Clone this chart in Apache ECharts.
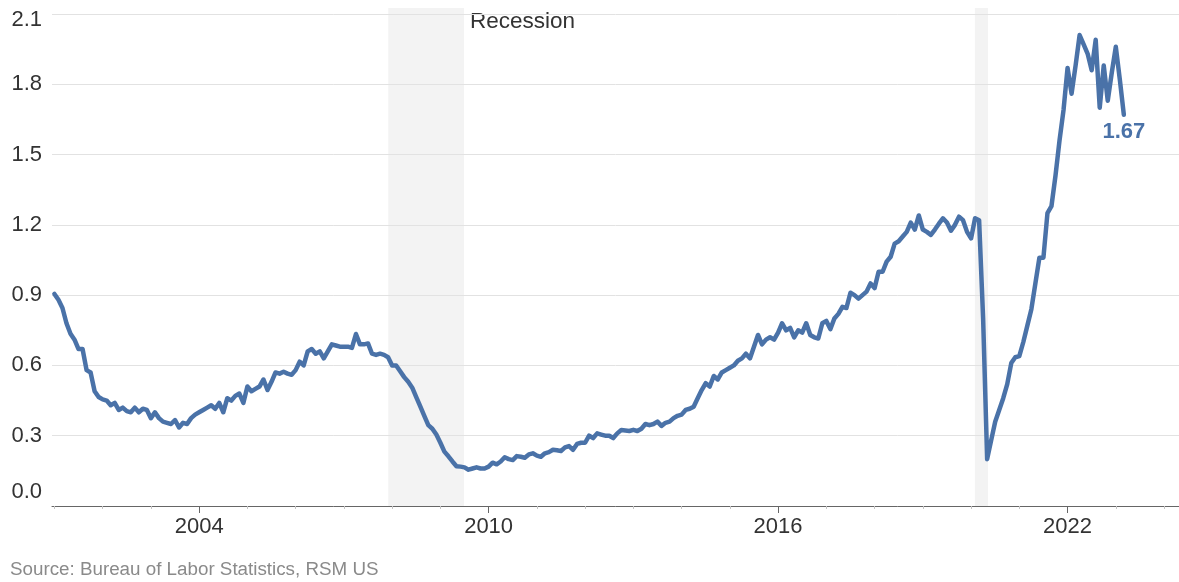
<!DOCTYPE html>
<html>
<head>
<meta charset="utf-8">
<title>Job openings per unemployed worker</title>
<script src="https://cdn.jsdelivr.net/npm/echarts@6/dist/echarts.min.js"></script>
<style>
  html, body { margin: 0; padding: 0; background: #ffffff; }
  #chart { width: 1179px; height: 582px; }
</style>
</head>
<body>
<div id="chart"></div>
<script>
// Monthly series begins December 2000
const firstYear = 2000;
const firstMonth = 12;

// Job openings per unemployed person, one value per month
const openingsPerUnemployed = [
  0.905,                                                                  // 2000 Dec
  0.88, 0.845, 0.78, 0.735, 0.71, 0.67, 0.67, 0.58, 0.57, 0.49, 0.465, 0.455, // 2001
  0.45, 0.43, 0.44, 0.41, 0.42, 0.405, 0.40, 0.42, 0.40, 0.415, 0.41, 0.375,  // 2002
  0.40, 0.375, 0.36, 0.355, 0.35, 0.367, 0.335, 0.355, 0.35, 0.375, 0.39, 0.40, // 2003
  0.41, 0.42, 0.43, 0.415, 0.44, 0.40, 0.46, 0.45, 0.47, 0.48, 0.44, 0.51,    // 2004
  0.49, 0.50, 0.51, 0.54, 0.495, 0.53, 0.57, 0.565, 0.573, 0.565, 0.56, 0.58, // 2005
  0.616, 0.60, 0.66, 0.67, 0.65, 0.66, 0.63, 0.66, 0.69, 0.685, 0.68, 0.68,   // 2006
  0.68, 0.675, 0.734, 0.69, 0.69, 0.694, 0.65, 0.645, 0.65, 0.645, 0.635, 0.60, // 2007
  0.60, 0.575, 0.55, 0.53, 0.505, 0.465, 0.425, 0.385, 0.345, 0.33, 0.305, 0.27, // 2008
  0.232, 0.212, 0.19, 0.17, 0.168, 0.165, 0.155, 0.16, 0.165, 0.16, 0.16, 0.168, // 2009
  0.185, 0.178, 0.19, 0.208, 0.20, 0.196, 0.213, 0.21, 0.206, 0.22, 0.225, 0.215, // 2010
  0.21, 0.225, 0.23, 0.24, 0.238, 0.235, 0.25, 0.256, 0.24, 0.265, 0.27, 0.27,  // 2011
  0.30, 0.29, 0.31, 0.305, 0.30, 0.30, 0.29, 0.31, 0.324, 0.322, 0.32, 0.325,  // 2012
  0.32, 0.33, 0.35, 0.345, 0.35, 0.36, 0.342, 0.355, 0.36, 0.375, 0.385, 0.39, // 2013
  0.41, 0.415, 0.424, 0.46, 0.495, 0.524, 0.51, 0.555, 0.54, 0.57, 0.58, 0.59, // 2014
  0.60, 0.62, 0.63, 0.65, 0.63, 0.68, 0.73, 0.69, 0.71, 0.72, 0.71, 0.74,      // 2015
  0.78, 0.75, 0.76, 0.72, 0.75, 0.74, 0.78, 0.73, 0.72, 0.715, 0.78, 0.79,     // 2016
  0.755, 0.80, 0.82, 0.85, 0.845, 0.91, 0.90, 0.885, 0.90, 0.915, 0.95, 0.93,  // 2017
  1.00, 1.00, 1.043, 1.064, 1.12, 1.13, 1.15, 1.17, 1.21, 1.18, 1.24, 1.18,    // 2018
  1.17, 1.157, 1.18, 1.205, 1.228, 1.21, 1.175, 1.20, 1.235, 1.22, 1.17, 1.142, // 2019
  1.228, 1.22, 0.80, 0.20, 0.28, 0.36, 0.41, 0.46, 0.52, 0.61, 0.635, 0.64,    // 2020
  0.70, 0.77, 0.84, 0.95, 1.06, 1.06, 1.25, 1.28, 1.41, 1.56, 1.69, 1.87,      // 2021
  1.76, 1.88, 2.01, 1.97, 1.93, 1.86, 1.99, 1.70, 1.88, 1.73, 1.85, 1.96,      // 2022
  1.82, 1.67                                                                   // 2023
];

// Recession periods, as fractional years
const recessions = [
  [2007.92, 2009.49],
  [2020.08, 2020.35]
];
const recessionLabel = 'Recession';

// Axis ticks and labels
const yearTicks = [2001, 2002, 2003, 2004, 2005, 2006, 2007, 2008, 2009, 2010, 2011, 2012,
                   2013, 2014, 2015, 2016, 2017, 2018, 2019, 2020, 2021, 2022, 2023, 2024];
const yearLabels = [2004, 2010, 2016, 2022];
const yMin = 0;
const yMax = 2.1;
const yStep = 0.3;

const sourceNote = 'Source: Bureau of Labor Statistics, RSM US';

const FONT = '"Liberation Sans", Arial, Helvetica, sans-serif';
const LINE_COLOR = '#4a72a8';
const TEXT_COLOR = '#333333';

// Each monthly reading is placed at the end of its month on the year scale
const points = openingsPerUnemployed.map((v, i) => [firstYear + (firstMonth + i) / 12, v]);
const lastPoint = points[points.length - 1];

const xMin = 2000.95;
const xMax = 2024.31;

const chart = echarts.init(document.getElementById('chart'), null, { renderer: 'canvas' });

chart.setOption({
  animation: false,
  backgroundColor: '#ffffff',
  textStyle: { fontFamily: FONT },
  title: {
    text: sourceNote,
    left: 10,
    top: 560,
    padding: 0,
    textStyle: { fontFamily: FONT, fontSize: 18.8, fontWeight: 'normal', color: '#8a8a8a' }
  },
  grid: { left: 52, right: 0, top: 14, bottom: 76, containLabel: false },
  xAxis: [
    {
      type: 'value',
      min: xMin,
      max: xMax,
      position: 'bottom',
      axisLine: { show: true, lineStyle: { color: '#666666', width: 1 } },
      axisTick: { show: true, customValues: yearTicks, length: 3, lineStyle: { color: '#c4c4c4', width: 1 } },
      axisLabel: {
        show: true,
        customValues: yearLabels,
        formatter: v => String(Math.round(v)),
        fontFamily: FONT,
        fontSize: 22,
        color: TEXT_COLOR,
        margin: 10
      },
      splitLine: { show: false }
    },
    {
      // longer ticks under the labelled years
      type: 'value',
      min: xMin,
      max: xMax,
      position: 'bottom',
      axisLine: { show: false },
      axisTick: { show: true, customValues: yearLabels, length: 7, lineStyle: { color: '#666666', width: 1 } },
      axisLabel: { show: false },
      splitLine: { show: false }
    }
  ],
  yAxis: {
    type: 'value',
    min: yMin,
    max: yMax,
    interval: yStep,
    axisLine: { show: false },
    axisTick: { show: false },
    splitLine: { show: true, lineStyle: { color: '#e2e2e2', width: 1 } },
    axisLabel: {
      fontFamily: FONT,
      fontSize: 22,
      color: TEXT_COLOR,
      margin: 10,
      formatter: v => {
        const s = v.toFixed(1);
        if (Math.abs(v - yMin) < 1e-9) return '{lo|' + s + '}';
        if (Math.abs(v - yMax) < 1e-9) return '{hi|' + s + '}';
        return s;
      },
      rich: {
        lo: { fontFamily: FONT, fontSize: 22, color: TEXT_COLOR, padding: [0, 0, 28, 0] },
        hi: { fontFamily: FONT, fontSize: 22, color: TEXT_COLOR, padding: [12, 0, 0, 0] }
      }
    }
  },
  series: [
    {
      // shaded recession bands
      type: 'custom',
      z: -1,
      silent: true,
      clip: false,
      xAxisIndex: 0,
      data: recessions,
      encode: { x: [0, 1] },
      renderItem: (params, api) => {
        const bottomLeft = api.coord([api.value(0), yMin]);
        const topRight = api.coord([api.value(1), yMax]);
        const children = [{
          type: 'rect',
          shape: {
            x: bottomLeft[0],
            y: topRight[1] - 6,
            width: topRight[0] - bottomLeft[0],
            height: bottomLeft[1] - topRight[1] + 6
          },
          style: { fill: '#f3f3f3' }
        }];
        if (params.dataIndex === 0) {
          children.push({
            type: 'text',
            x: topRight[0] + 6,
            y: topRight[1] + 8,
            style: {
              text: recessionLabel,
              fill: TEXT_COLOR,
              font: '22.5px ' + FONT,
              verticalAlign: 'middle',
              align: 'left'
            }
          });
        }
        return { type: 'group', children };
      }
    },
    {
      type: 'line',
      xAxisIndex: 0,
      data: points,
      showSymbol: false,
      symbol: 'none',
      lineStyle: { color: LINE_COLOR, width: 4.5, join: 'round', cap: 'round' },
      markPoint: {
        symbol: 'circle',
        symbolSize: 1,
        itemStyle: { color: 'rgba(0,0,0,0)' },
        label: {
          show: true,
          position: 'bottom',
          distance: 6,
          formatter: p => Number(p.value).toFixed(2),
          fontFamily: FONT,
          fontSize: 22,
          fontWeight: 'bold',
          color: LINE_COLOR
        },
        data: [{ coord: lastPoint, value: lastPoint[1] }]
      }
    }
  ]
});
</script>
</body>
</html>
